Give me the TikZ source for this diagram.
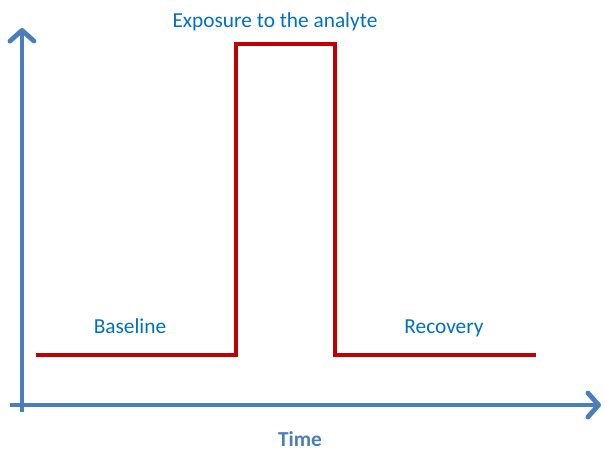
\documentclass[tikz,border=0pt]{standalone}
\usepackage{fontspec}
\setmainfont{Carlito}
\usetikzlibrary{arrows.meta}
\definecolor{axisblue}{RGB}{74,126,187}
\definecolor{txtblue}{RGB}{0,112,192}
\definecolor{sigred}{RGB}{192,0,0}
\begin{document}
\begin{tikzpicture}[x=0.75pt,y=-0.75pt,
  axis/.style={draw=axisblue,line width=3.6pt,-{Straight Barb[length=8pt,width=18pt,line cap=round,line join=round]}},
  signal/.style={draw=sigred,line width=3.2pt},
  lbl/.style={text=txtblue,font=\fontsize{16}{18}\selectfont,inner sep=0pt}]
\useasboundingbox (0,0) rectangle (605,452);
\coordinate (ys) at (22,412);
\coordinate (ye) at (22,28);
\coordinate (xs) at (10,405);
\coordinate (xe) at (601,405);
\draw[axis] (ys) -- (ye);
\draw[axis] (xs) -- (xe);
\coordinate (a) at (36,355);
\coordinate (b) at (236,355);
\coordinate (c) at (236,44);
\coordinate (d) at (335,44);
\coordinate (e) at (335,355);
\coordinate (f) at (536,355);
\draw[signal] (a) -- (b) -- (c) -- (d) -- (e) -- (f);
\node[lbl] (exp) at (275,22) {Exposure to the analyte};
\node[lbl] (base) at (130,326) {Baseline};
\node[lbl] (rec) at (444,328) {Recovery};
\node[lbl,text=axisblue,font=\fontsize{16}{18}\selectfont\bfseries] (time) at (300,439) {Time};
\end{tikzpicture}
\end{document}
